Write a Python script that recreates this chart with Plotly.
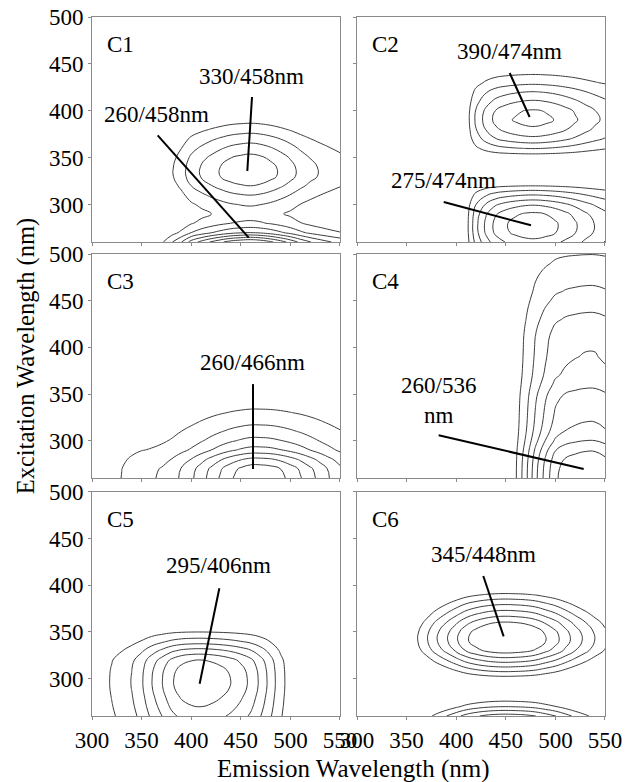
import numpy as np
import plotly.graph_objects as go

# ---------------- data ----------------
# excitation / emission wavelength grids (nm)
ex_wl = [260, 270, 280, 290, 300, 310, 320, 330, 340, 350, 360, 370, 380,
         390, 400, 410, 420, 430, 440, 450, 460, 470, 480, 490, 500]
em_wl = [300, 310, 320, 330, 340, 350, 360, 370, 380, 390, 400, 410, 420,
         430, 440, 450, 460, 470, 480, 490, 500, 510, 520, 530, 540, 550]

panel_names = ["C1", "C2", "C3", "C4", "C5", "C6"]

# excitation loadings (values on ex_wl), estimated from the contour map
ex_C1 = [0.9, 0.5, 0.32, 0.25, 0.31, 0.4, 0.5, 0.58, 0.58, 0.53, 0.45, 0.36, 0.26,
         0.17, 0.1, 0.05, 0.02, 0.01, 0, 0, 0, 0, 0, 0, 0]
ex_C2 = [0.58, 0.67, 0.68, 0.63, 0.5, 0.31, 0.1, 0.02, 0.0, 0.03, 0.21, 0.38, 0.49,
         0.55, 0.52, 0.42, 0.31, 0.18, 0.09, 0.03, 0, 0, 0, 0, 0]
ex_C3 = [0.79, 0.76, 0.63, 0.44, 0.33, 0.25, 0.18, 0.12, 0.07, 0.04, 0.02, 0.01, 0,
         0, 0, 0, 0, 0, 0, 0, 0, 0, 0, 0, 0]
ex_C4 = [0.89, 0.88, 0.85, 0.79, 0.7, 0.635, 0.6, 0.58, 0.56, 0.53, 0.48, 0.44, 0.42,
         0.405, 0.395, 0.385, 0.36, 0.325, 0.29, 0.25, 0.215, 0.19, 0.16, 0.125, 0.098]
ex_C5 = [0.55, 0.6, 0.64, 0.675, 0.68, 0.66, 0.6, 0.44, 0.25, 0.1, 0.03, 0, 0,
         0, 0, 0, 0, 0, 0, 0, 0, 0, 0, 0, 0]
ex_C6 = [0.7, 0.45, 0.28, 0.2, 0.3, 0.5, 0.7, 0.9, 0.99, 0.97, 0.86, 0.7, 0.54,
         0.37, 0.2, 0.08, 0.03, 0.01, 0, 0, 0, 0, 0, 0, 0]

# emission loadings (values on em_wl)
em_C1 = [0, 0, 0, 0, 0.01, 0.04, 0.10, 0.20, 0.32, 0.44, 0.60, 0.70, 0.79,
         0.87, 0.94, 0.98, 1.0, 0.97, 0.91, 0.83, 0.74, 0.64, 0.56, 0.50, 0.45, 0.41]
em_C2 = [0, 0, 0, 0, 0, 0, 0, 0, 0, 0, 0, 0.08, 0.4,
         0.62, 0.78, 0.87, 0.93, 0.97, 0.98, 0.95, 0.9, 0.83, 0.75, 0.66, 0.58, 0.51]
em_C3 = [0, 0.03, 0.08, 0.13, 0.18, 0.22, 0.24, 0.27, 0.32, 0.4, 0.48, 0.58, 0.68,
         0.78, 0.87, 0.94, 0.99, 0.99, 0.97, 0.92, 0.85, 0.77, 0.68, 0.59, 0.5, 0.42]
em_C4 = [0, 0, 0, 0, 0, 0, 0, 0, 0, 0, 0, 0, 0,
         0, 0, 0.0, 0.1, 0.3, 0.53, 0.72, 0.88, 0.95, 0.98, 1.0, 1.0, 0.96]
em_C5 = [0.04, 0.1, 0.16, 0.22, 0.3, 0.42, 0.58, 0.72, 0.86, 0.95, 0.99, 1.0, 0.98,
         0.94, 0.88, 0.8, 0.7, 0.55, 0.38, 0.2, 0.08, 0.02, 0, 0, 0, 0]
em_C6 = [0, 0, 0.01, 0.04, 0.1, 0.2, 0.34, 0.44, 0.545, 0.64, 0.74, 0.84, 0.91,
         0.96, 0.99, 1.0, 0.99, 0.97, 0.93, 0.86, 0.79, 0.7, 0.61, 0.53, 0.45, 0.38]

# contour levels (first, last, step) per component
level_first = [0.2, 0.1, 0.1, 0.1, 0.1, 0.35]
level_last = [0.8, 0.6, 0.7, 0.8, 0.6, 0.85]
level_step = [0.1, 0.1, 0.1, 0.1, 0.1, 0.1]

# peak labels: text, Em/Ex of label centre; pointer line Em/Ex endpoints
peak_panel = [0, 0, 1, 1, 2, 3, 4, 5]
peak_text = ["330/458nm", "260/458nm", "390/474nm", "275/474nm",
             "260/466nm", "260/536<br>nm", "295/406nm", "345/448nm"]
peak_text_em = [460.6, 365.5, 453.6, 386.7, 462.0, 382.0, 427.7, 427.7]
peak_text_ex = [436.7, 396.0, 463.4, 325.8, 383.7, 343.0, 421.0, 433.1]
ptr_em0 = [461.3, 366.2, 453.9, 387.4, 462.3, 382.3, 428.4, 427.3]
ptr_ex0 = [414.7, 373.8, 440.3, 302.6, 360.6, 305.9, 396.9, 410.0]
ptr_em1 = [456.6, 458.0, 474.0, 475.4, 462.3, 528.5, 408.5, 447.8]
ptr_ex1 = [335.7, 264.6, 393.3, 277.8, 269.6, 269.6, 294.5, 345.3]

x_ticks = [300, 350, 400, 450, 500, 550]
y_ticks = [300, 350, 400, 450, 500]

# ---------------- figure ----------------
ex_list = [ex_C1, ex_C2, ex_C3, ex_C4, ex_C5, ex_C6]
em_list = [em_C1, em_C2, em_C3, em_C4, em_C5, em_C6]

FONT = "Liberation Serif, Times New Roman, Times, serif"
AXC = "#8a8a8a"
x_domains = [[0.0, 0.4834], [0.5166, 1.0]]
y_domains = [[0.6781, 1.0], [0.3405, 0.6609], [0.0, 0.3205]]

fig = go.Figure()
layout_axes = {}
annotations = []

for i, name in enumerate(panel_names):
    r, c = divmod(i, 2)
    n = i + 1
    xa = "x" if n == 1 else f"x{n}"
    ya = "y" if n == 1 else f"y{n}"
    z = np.outer(np.array(ex_list[i]), np.array(em_list[i]))
    fig.add_trace(go.Contour(
        x=em_wl, y=ex_wl, z=z, xaxis=xa, yaxis=ya,
        contours=dict(start=level_first[i], end=level_last[i] + 0.01,
                      size=level_step[i], coloring="lines", showlabels=False),
        line=dict(width=1, smoothing=1.3),
        colorscale=[[0, "#3c3c3c"], [1, "#3c3c3c"]],
        showscale=False, hoverinfo="skip"))
    layout_axes["xaxis" if n == 1 else f"xaxis{n}"] = dict(
        domain=x_domains[c], anchor=ya, range=[300, 550], tickvals=x_ticks,
        showticklabels=(r == 2), ticks="outside", ticklen=3, tickcolor=AXC,
        showline=True, mirror=True, linecolor=AXC, linewidth=1,
        showgrid=False, zeroline=False, automargin=False,
        tickfont=dict(family=FONT, size=23, color="black"))
    layout_axes["yaxis" if n == 1 else f"yaxis{n}"] = dict(
        domain=y_domains[r], anchor=xa, range=[260, 500], tickvals=y_ticks,
        showticklabels=(c == 0), ticks="outside", ticklen=3, tickcolor=AXC,
        showline=True, mirror=True, linecolor=AXC, linewidth=1,
        showgrid=False, zeroline=False, automargin=False,
        tickfont=dict(family=FONT, size=23, color="black"))
    annotations.append(dict(x=313, y=471, xref=xa, yref=ya, text=name,
                            showarrow=False, xanchor="left", yanchor="middle",
                            font=dict(family=FONT, size=23, color="black")))

for k in range(len(peak_text)):
    n = peak_panel[k] + 1
    xa = "x" if n == 1 else f"x{n}"
    ya = "y" if n == 1 else f"y{n}"
    fig.add_trace(go.Scatter(
        x=[ptr_em0[k], ptr_em1[k]], y=[ptr_ex0[k], ptr_ex1[k]], mode="lines",
        line=dict(color="black", width=2), xaxis=xa, yaxis=ya,
        showlegend=False, hoverinfo="skip"))
    annotations.append(dict(x=peak_text_em[k], y=peak_text_ex[k], xref=xa, yref=ya,
                            text=peak_text[k], showarrow=False,
                            xanchor="center", yanchor="middle",
                            font=dict(family=FONT, size=23, color="black")))

annotations.append(dict(x=0.5088, y=-0.0758, xref="paper", yref="paper",
                        text="Emission Wavelength (nm)", showarrow=False,
                        xanchor="center", yanchor="middle",
                        font=dict(family=FONT, size=25, color="black")))
annotations.append(dict(x=-0.1287, y=0.516, xref="paper", yref="paper",
                        text="Excitation Wavelength (nm)", showarrow=False,
                        textangle=-90, xanchor="center", yanchor="middle",
                        font=dict(family=FONT, size=24.5, color="black")))

fig.update_layout(
    width=629, height=782,
    margin=dict(l=92, r=24, t=17, b=66, autoexpand=False),
    paper_bgcolor="white", plot_bgcolor="white",
    font=dict(family=FONT, color="black"),
    showlegend=False, annotations=annotations,
    **layout_axes)

fig.write_html(
    "out.html",
    config={"displayModeBar": False},
    post_script="document.body.style.margin='0';document.body.style.overflow='hidden';")
